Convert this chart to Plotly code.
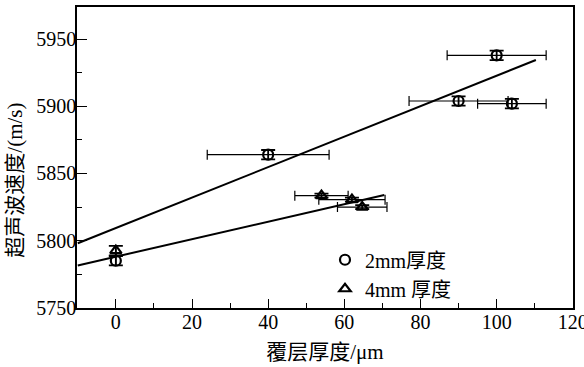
import plotly.graph_objects as go

# 2 mm samples (circles)
x2 = [0, 40, 100, 90, 104]
y2 = [5785, 5864, 5938, 5904, 5902]
x2_err = [0, 16, 13, 13, 9]
y2_err = [3.5, 3.5, 3.5, 3.5, 3.5]

# 4 mm samples (triangles)
x4 = [0, 54, 62, 64.7]
y4 = [5792.5, 5833.5, 5830.5, 5825]
x4_err = [0, 7, 8.7, 6.5]
y4_err = [3.5, 1.5, 1.5, 1.5]

# fitted lines
fit2_x = [-10, 110.3]
fit2_y = [5798, 5934.5]
fit4_x = [-10, 70.5]
fit4_y = [5781.5, 5834]

x_ticks = [0, 20, 40, 60, 80, 100, 120]
y_ticks = [5750, 5800, 5850, 5900, 5950]

x_title = "覆层厚度/μm"
y_title = "超声波速度/(m/s)"

serif = "Liberation Serif"
cjk = "Liberation Serif, Noto Sans CJK SC"

fig = go.Figure()

fig.add_trace(go.Scatter(x=fit2_x, y=fit2_y, mode="lines",
                         line=dict(color="black", width=2), showlegend=False, hoverinfo="skip"))
fig.add_trace(go.Scatter(x=fit4_x, y=fit4_y, mode="lines",
                         line=dict(color="black", width=2), showlegend=False, hoverinfo="skip"))

fig.add_trace(go.Scatter(
    x=x2, y=y2, mode="markers", name="2mm厚度",
    marker=dict(symbol="circle-open", size=10, color="black", line=dict(width=2.2)),
    error_x=dict(type="data", array=x2_err, color="black", thickness=1.2, width=5),
    error_y=dict(type="data", array=y2_err, color="black", thickness=1.8, width=7),
))
fig.add_trace(go.Scatter(
    x=x4, y=y4, mode="markers", name="4mm 厚度",
    marker=dict(symbol="triangle-up-open", size=10, color="black", line=dict(width=2.2)),
    error_x=dict(type="data", array=x4_err, color="black", thickness=1.2, width=5),
    error_y=dict(type="data", array=y4_err, color="black", thickness=1.8, width=7),
))

fig.update_layout(
    width=584, height=367,
    margin=dict(l=77, r=11, t=7, b=59, pad=0, autoexpand=False),
    plot_bgcolor="white", paper_bgcolor="white",
    font=dict(family=serif, size=18, color="black"),
    legend=dict(x=0.50, y=0.225, xanchor="left", yanchor="top",
                bgcolor="rgba(0,0,0,0)", font=dict(family=cjk, size=20),
                tracegroupgap=0, itemwidth=30),
    showlegend=True,
    annotations=[dict(text=y_title, xref="paper", yref="paper", x=-0.125, y=0.423,
                      xanchor="center", yanchor="middle", textangle=-90, showarrow=False,
                      font=dict(family=cjk, size=21, color="black"))],
)

fig.update_xaxes(
    range=[-10.2, 120.05], tickvals=x_ticks, ticktext=[str(v) for v in x_ticks],
    ticks="inside", ticklen=9, tickwidth=1.3, tickcolor="black",
    showline=True, linecolor="black", linewidth=1.5, mirror=True,
    showgrid=False, zeroline=False, ticklabelstandoff=-5, ticklabeloverflow="allow",
    automargin=False,
    minor=dict(tickvals=[10, 30, 50, 70, 90, 110], ticks="inside", ticklen=5, tickwidth=1.2, tickcolor="black"),
    tickfont=dict(family=serif, size=20),
    title=dict(text=x_title, font=dict(family=cjk, size=21), standoff=13),
)
fig.update_yaxes(
    range=[5749.8, 5974], tickvals=y_ticks, ticktext=[str(v) for v in y_ticks],
    ticks="inside", ticklen=10, tickwidth=1.3, tickcolor="black",
    showline=True, linecolor="black", linewidth=1.5, mirror=True,
    showgrid=False, zeroline=False, ticklabelstandoff=-5, automargin=False,
    minor=dict(tickvals=[5775, 5825, 5875, 5925], ticks="inside", ticklen=5, tickwidth=1.2, tickcolor="black"),
    tickfont=dict(family=serif, size=20),
)

fig.write_html("out.html", config={"displayModeBar": False},
               post_script="document.body.style.margin='0';document.body.style.overflow='hidden';")
